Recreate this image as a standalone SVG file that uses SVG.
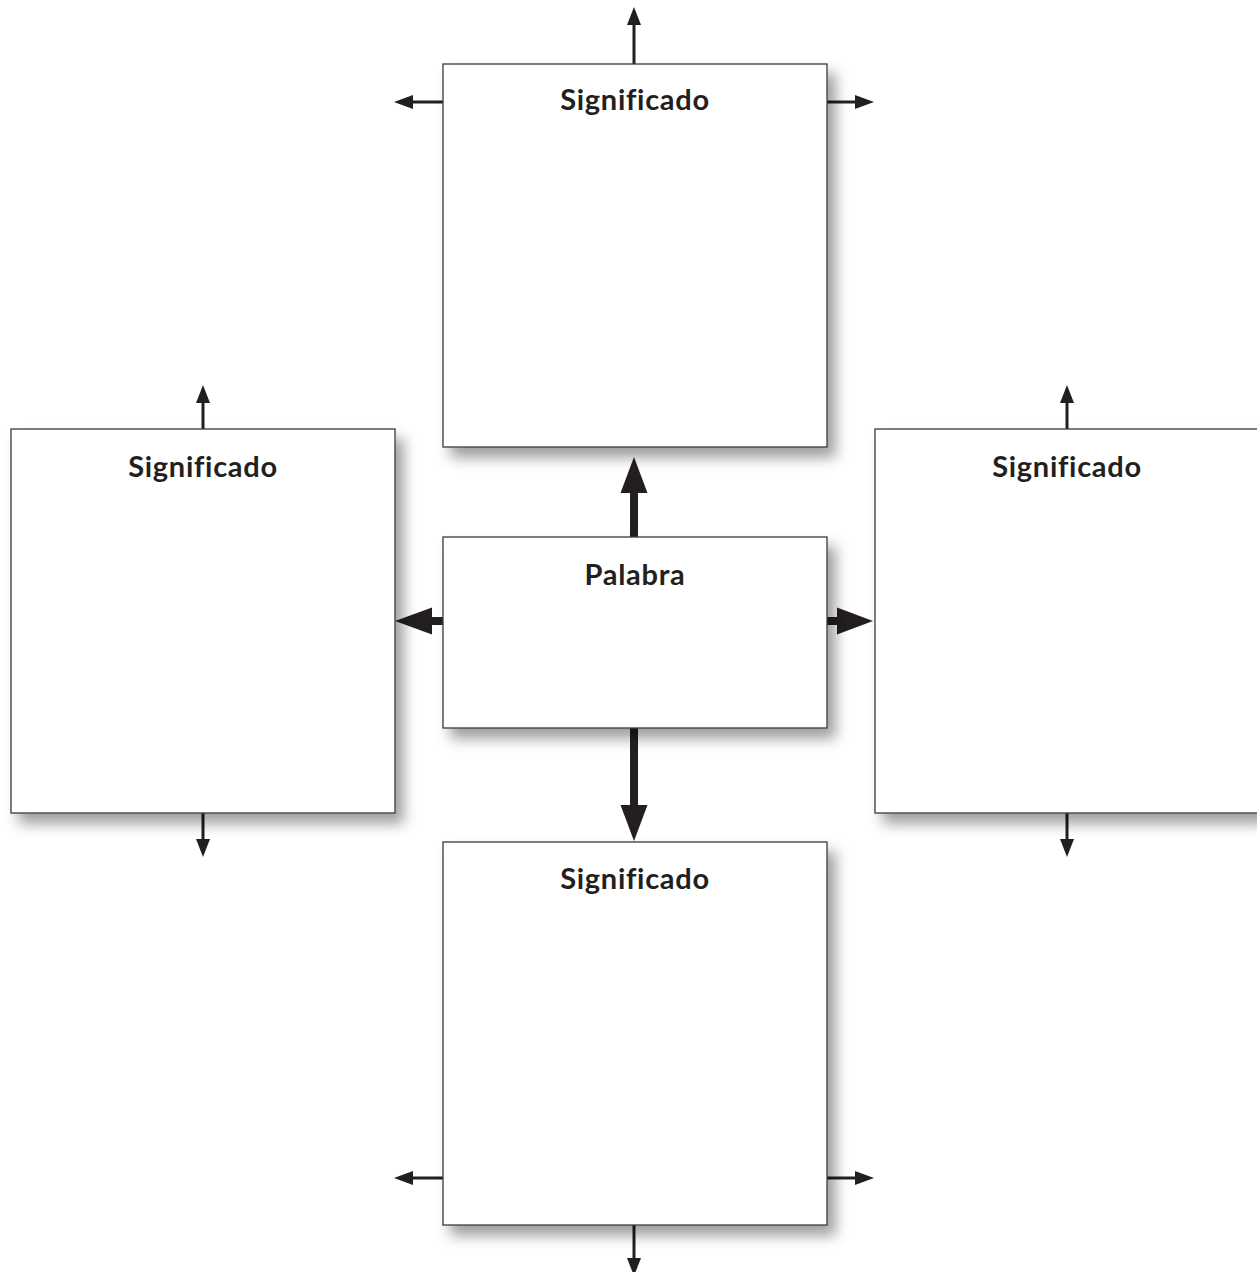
<svg xmlns="http://www.w3.org/2000/svg" width="1257" height="1272" viewBox="0 0 1257 1272">
<defs>
<style>
.box{fill:#fff;stroke:#3a3a3a;stroke-width:1.3;filter:url(#sh)}
.lbl{font-family:Lato,"Open Sans","Liberation Sans",sans-serif;font-weight:bold;font-size:29px;letter-spacing:0.7px;fill:#231f20;text-anchor:middle}
.thin{stroke:#231f20;stroke-width:3;fill:none}
.thick{stroke:#231f20;stroke-width:8;fill:none}
.head{fill:#231f20}
</style>
<filter id="sh" x="-10%" y="-10%" width="125%" height="125%">
<feDropShadow dx="8" dy="10" stdDeviation="7" flood-color="#000" flood-opacity="0.38"/>
</filter>
</defs>
<g id="connectors">
<line class="thin" x1="634" y1="64" x2="634" y2="22"/><polygon class="head" points="634,7 627,25 641,25"/>
<line class="thin" x1="443" y1="102" x2="410" y2="102"/><polygon class="head" points="394,102 413,95 413,109"/>
<line class="thin" x1="827" y1="102" x2="858" y2="102"/><polygon class="head" points="874,102 855,95 855,109"/>
<line class="thin" x1="203" y1="429" x2="203" y2="400"/><polygon class="head" points="203,385 196,403 210,403"/>
<line class="thin" x1="203" y1="813" x2="203" y2="842"/><polygon class="head" points="203,857 196,839 210,839"/>
<line class="thin" x1="1067" y1="429" x2="1067" y2="400"/><polygon class="head" points="1067,385 1060,403 1074,403"/>
<line class="thin" x1="1067" y1="813" x2="1067" y2="842"/><polygon class="head" points="1067,857 1060,839 1074,839"/>
<line class="thin" x1="443" y1="1178" x2="410" y2="1178"/><polygon class="head" points="394,1178 413,1171 413,1185"/>
<line class="thin" x1="827" y1="1178" x2="858" y2="1178"/><polygon class="head" points="874,1178 855,1171 855,1185"/>
<line class="thin" x1="634" y1="1225" x2="634" y2="1262"/><polygon class="head" points="634,1276 627,1258 641,1258"/>
<line class="thick" x1="634" y1="537" x2="634" y2="490"/><polygon class="head" points="634,457 620.5,493 647.5,493"/>
<line class="thick" x1="634" y1="728" x2="634" y2="808"/><polygon class="head" points="634,841 620.5,805 647.5,805"/>
<line class="thick" x1="443" y1="621" x2="429" y2="621"/><polygon class="head" points="395,621 432,607.5 432,634.5"/>
<line class="thick" x1="827" y1="621" x2="840" y2="621"/><polygon class="head" points="873,621 837,607.5 837,634.5"/>
</g>
<g id="node-top"><rect class="box" x="443" y="64" width="384" height="383"/><text class="lbl" x="635" y="110">Significado</text></g>
<g id="node-left"><rect class="box" x="11" y="429" width="384" height="384"/><text class="lbl" x="203" y="477">Significado</text></g>
<g id="node-right"><rect class="box" x="875" y="429" width="384" height="384"/><text class="lbl" x="1067" y="477">Significado</text></g>
<g id="node-bottom"><rect class="box" x="443" y="842" width="384" height="383"/><text class="lbl" x="635" y="889">Significado</text></g>
<g id="node-palabra"><rect class="box" x="443" y="537" width="384" height="191"/><text class="lbl" x="635" y="585">Palabra</text></g>
</svg>
